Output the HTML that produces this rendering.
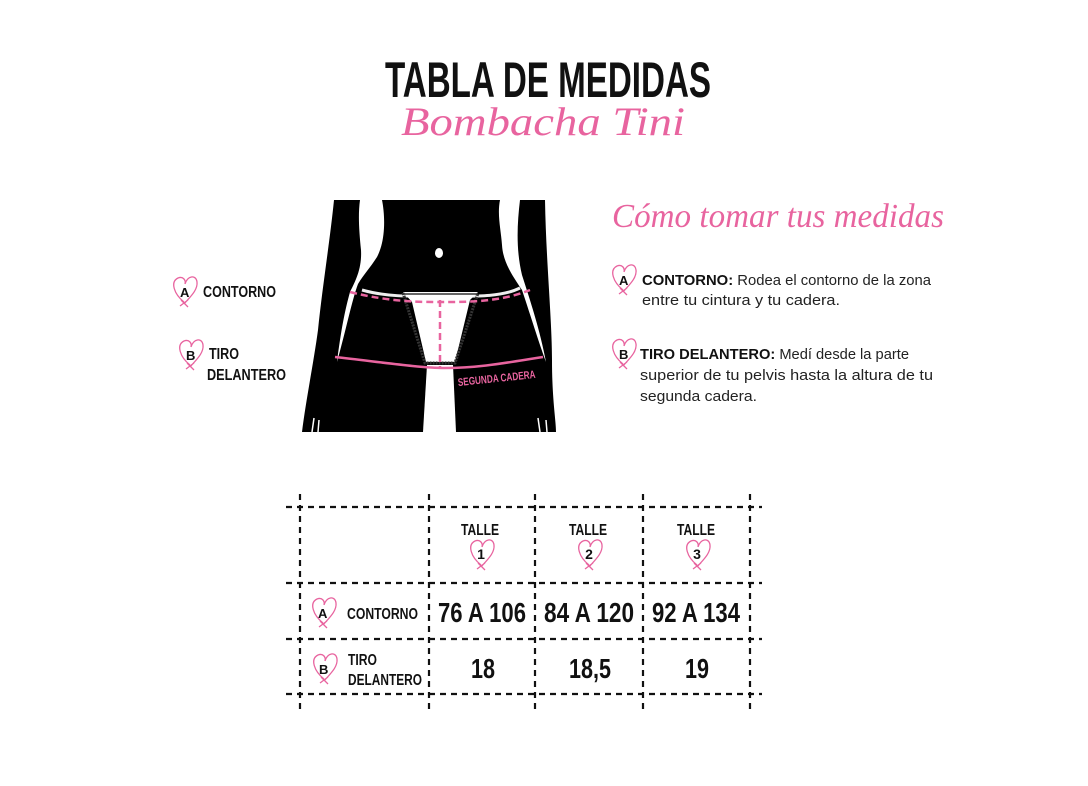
<!DOCTYPE html>
<html><head><meta charset="utf-8"><style>
html,body{margin:0;padding:0;background:#fff}
svg{display:block}
.c{font-family:"Liberation Sans",sans-serif;font-weight:bold;fill:#111}
.s{font-family:"Liberation Serif",serif;font-style:italic;fill:#e8649f}
.b{font-family:"Liberation Sans",sans-serif;fill:#222}
</style></head><body>
<svg width="1088" height="786" viewBox="0 0 1088 786" xmlns="http://www.w3.org/2000/svg">
<defs>
<g id="h"><path d="M0,14 C-10,6 -14,-6 -6,-10 C-1,-12 2,-8 1,-4 C3,-12 12,-14 13,-6 C14,2 6,9 0,16 M-4,18 L4,12 M-3,12 L4,19" fill="none" stroke="#e8649f" stroke-width="1.3"/></g>
</defs>
<text x="548" y="97" text-anchor="middle" class="c" font-size="50" textLength="326" lengthAdjust="spacingAndGlyphs">TABLA DE MEDIDAS</text>
<text x="543" y="135" text-anchor="middle" class="s" font-size="40" textLength="284" lengthAdjust="spacingAndGlyphs">Bombacha Tini</text>
<text x="778" y="227" text-anchor="middle" class="s" font-size="34" textLength="332" lengthAdjust="spacingAndGlyphs">Cómo tomar tus medidas</text>

<!-- silhouette -->
<path d="M334,200 L545,200 C546,260 552,320 552,360 C552,400 556,420 556,432 L302,432 C306,400 314,360 318,330 C322,290 330,240 334,200 Z" fill="#000"/>
<path d="M360,200 L382,200 C385,215 386,240 377,257 C370,268 364,274 358,284 C352,300 346,330 337,362 C341,330 345,310 350,292 C356,280 362,268 361,250 C359,230 358,215 360,200 Z" fill="#fff"/>
<path d="M500,200 L520,200 C517,225 516,250 522,275 C530,300 540,330 546,362 C538,340 532,320 522,290 C512,275 503,262 502,245 C501,230 497,215 500,200 Z" fill="#fff"/>
<path d="M427,365 L453,365 L456,432 L423,432 Z" fill="#fff"/>
<path d="M312,432 L314,418 M318,432 L319,420 M540,432 L538,418 M547,432 L546,420" stroke="#fff" stroke-width="1.5"/>
<ellipse cx="439" cy="253" rx="4" ry="5" fill="#fff"/>
<path d="M362,290 C390,298 420,296 440,296 C470,296 500,298 520,288" stroke="#eee" stroke-width="3" fill="none"/>
<path d="M403,292 L478,292 L470,300 L455,362 L426,362 L412,302 Z" fill="#fff"/>
<path d="M403,293 L425,363 L455,363 L478,293" stroke="#333" stroke-width="3" fill="none" stroke-dasharray="2 1"/>
<path d="M403,294 L478,294" stroke="#333" stroke-width="1.5"/>
<path d="M350,292 C390,302 420,302 440,302 C470,302 500,302 530,290" stroke="#e8649f" stroke-width="2.5" stroke-dasharray="7 4" fill="none"/>
<path d="M440,300 L440,368" stroke="#e8649f" stroke-width="2.5" stroke-dasharray="7 4"/>
<path d="M335,357 C380,362 420,368 445,368 C480,368 510,362 543,357" stroke="#e8649f" stroke-width="2.5" fill="none"/>
<text x="497" y="382" transform="rotate(-6 497 382)" text-anchor="middle" font-family="Liberation Sans,sans-serif" font-weight="bold" font-size="11" fill="#e8649f" textLength="78" lengthAdjust="spacingAndGlyphs">SEGUNDA CADERA</text>

<!-- left labels -->
<use href="#h" x="184" y="288"/><text x="180" y="297" class="c" font-size="13">A</text>
<text x="203" y="297" class="c" font-size="16" textLength="73" lengthAdjust="spacingAndGlyphs">CONTORNO</text>
<use href="#h" x="190" y="351"/><text x="186" y="360" class="c" font-size="13">B</text>
<text x="209" y="359" class="c" font-size="16" textLength="30" lengthAdjust="spacingAndGlyphs">TIRO</text>
<text x="207" y="380" class="c" font-size="16" textLength="79" lengthAdjust="spacingAndGlyphs">DELANTERO</text>

<!-- right text -->
<use href="#h" x="623" y="276"/><text x="619" y="285" class="c" font-size="13">A</text>
<text x="642" y="285" font-size="15" class="b" textLength="289" lengthAdjust="spacingAndGlyphs"><tspan class="c">CONTORNO:</tspan> Rodea el contorno de la zona</text>
<text x="642" y="305" font-size="15" class="b" textLength="198" lengthAdjust="spacingAndGlyphs">entre tu cintura y tu cadera.</text>
<use href="#h" x="623" y="350"/><text x="619" y="359" class="c" font-size="13">B</text>
<text x="640" y="359" font-size="15" class="b" textLength="269" lengthAdjust="spacingAndGlyphs"><tspan class="c">TIRO DELANTERO:</tspan> Medí desde la parte</text>
<text x="640" y="380" font-size="15" class="b" textLength="293" lengthAdjust="spacingAndGlyphs">superior de tu pelvis hasta la altura de tu</text>
<text x="640" y="401" font-size="15" class="b" textLength="117" lengthAdjust="spacingAndGlyphs">segunda cadera.</text>

<!-- table -->
<g stroke="#111" stroke-width="2.2" stroke-dasharray="6 5">
<line x1="300" y1="494" x2="300" y2="710"/><line x1="429" y1="494" x2="429" y2="710"/>
<line x1="535" y1="494" x2="535" y2="710"/><line x1="643" y1="494" x2="643" y2="710"/>
<line x1="750" y1="494" x2="750" y2="710"/>
<line x1="286" y1="507" x2="762" y2="507"/><line x1="286" y1="583" x2="762" y2="583"/>
<line x1="286" y1="639" x2="762" y2="639"/><line x1="286" y1="694" x2="762" y2="694"/>
</g>
<g class="c" font-size="16" text-anchor="middle">
<text x="480" y="535" textLength="38" lengthAdjust="spacingAndGlyphs">TALLE</text>
<text x="588" y="535" textLength="38" lengthAdjust="spacingAndGlyphs">TALLE</text>
<text x="696" y="535" textLength="38" lengthAdjust="spacingAndGlyphs">TALLE</text>
<text x="481" y="559" font-size="14">1</text><text x="589" y="559" font-size="14">2</text><text x="697" y="559" font-size="14">3</text>
</g>
<use href="#h" x="481" y="551"/><use href="#h" x="589" y="551"/><use href="#h" x="697" y="551"/>
<use href="#h" x="323" y="609"/><text x="318" y="618" class="c" font-size="13">A</text>
<text x="347" y="619" class="c" font-size="16" textLength="71" lengthAdjust="spacingAndGlyphs">CONTORNO</text>
<use href="#h" x="324" y="665"/><text x="319" y="674" class="c" font-size="13">B</text>
<text x="348" y="665" class="c" font-size="16" textLength="29" lengthAdjust="spacingAndGlyphs">TIRO</text>
<text x="348" y="685" class="c" font-size="16" textLength="74" lengthAdjust="spacingAndGlyphs">DELANTERO</text>
<g class="c" font-size="28" text-anchor="middle">
<text x="482" y="622" textLength="88" lengthAdjust="spacingAndGlyphs">76 A 106</text>
<text x="589" y="622" textLength="90" lengthAdjust="spacingAndGlyphs">84 A 120</text>
<text x="696" y="622" textLength="88" lengthAdjust="spacingAndGlyphs">92 A 134</text>
<text x="483" y="678" textLength="24" lengthAdjust="spacingAndGlyphs">18</text>
<text x="590" y="678" textLength="42" lengthAdjust="spacingAndGlyphs">18,5</text>
<text x="697" y="678" textLength="24" lengthAdjust="spacingAndGlyphs">19</text>
</g>
</svg>
</body></html>
